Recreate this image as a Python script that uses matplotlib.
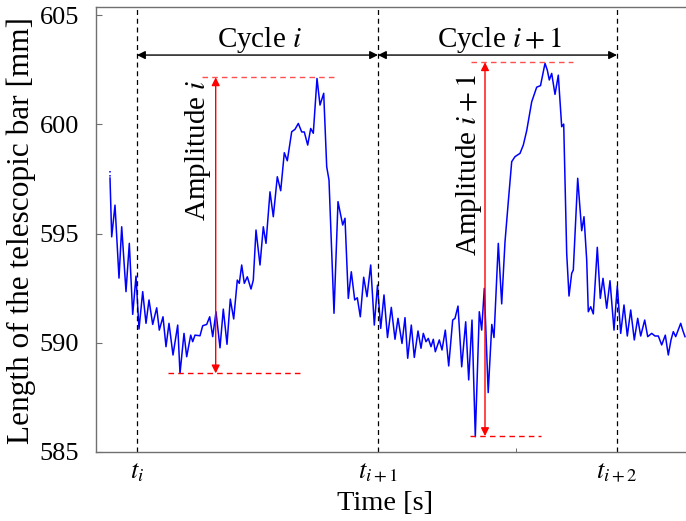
import matplotlib
matplotlib.use("Agg")
import matplotlib.pyplot as plt
import numpy as np

plt.rcParams['font.family'] = ['Liberation Serif', 'DejaVu Serif']
plt.rcParams['mathtext.fontset'] = 'stix'

# ---- data ----
time_s = [0.14, 0.157, 0.19, 0.23, 0.257, 0.30, 0.333, 0.367, 0.40, 0.43,
          0.467, 0.50, 0.53, 0.567, 0.607, 0.633, 0.67, 0.70, 0.73, 0.77,
          0.817, 0.84, 0.88, 0.907, 0.947, 0.967, 0.99, 1.04, 1.067, 1.107,
          1.137, 1.167, 1.20, 1.24, 1.273, 1.31, 1.343, 1.377, 1.413, 1.433,
          1.457, 1.483, 1.513, 1.55, 1.573, 1.60, 1.64, 1.673, 1.70, 1.74,
          1.773, 1.813, 1.847, 1.883, 1.913, 1.957, 1.99, 2.023, 2.057, 2.083,
          2.117, 2.147, 2.173, 2.21, 2.24, 2.277, 2.307, 2.33, 2.38, 2.42,
          2.45, 2.467, 2.49, 2.523, 2.553, 2.587, 2.613, 2.643, 2.677, 2.71,
          2.747, 2.783, 2.815, 2.847, 2.88, 2.915, 2.953, 2.99, 3.02, 3.06,
          3.09, 3.117, 3.153, 3.183, 3.22, 3.25, 3.273, 3.30, 3.323, 3.35,
          3.373, 3.393, 3.433, 3.46, 3.493, 3.527, 3.567, 3.59, 3.62, 3.657,
          3.697, 3.727, 3.76, 3.793, 3.833, 3.857, 3.883, 3.922, 3.958, 3.98,
          4.023, 4.057, 4.09, 4.123, 4.157, 4.19, 4.24, 4.273, 4.307, 4.357,
          4.407, 4.445, 4.49, 4.513, 4.533, 4.557, 4.59, 4.623, 4.657, 4.677,
          4.707, 4.73, 4.757, 4.773, 4.817, 4.857, 4.88, 4.907, 4.923, 4.947,
          4.973, 5.013, 5.043, 5.07, 5.107, 5.14, 5.18, 5.213, 5.247, 5.28,
          5.313, 5.347, 5.383, 5.417, 5.447, 5.487, 5.517, 5.557, 5.59, 5.623,
          5.657, 5.693, 5.723, 5.75, 5.773, 5.797, 5.847, 5.867, 5.89]
length_mm = [597.54, 594.85, 596.30, 592.96, 595.31, 592.34, 594.55, 591.30, 593.05, 590.63,
             592.34, 590.89, 591.96, 590.84, 591.60, 590.58, 591.19, 589.82, 590.89, 589.44,
             590.81, 588.60, 590.43, 589.36, 590.35, 590.05, 590.35, 590.32, 590.78, 590.84,
             591.19, 590.28, 591.42, 589.77, 591.54, 589.93, 592.00, 591.09, 592.87, 592.72,
             593.56, 592.72, 593.02, 592.46, 592.87, 595.16, 593.56, 595.31, 594.55, 596.91,
             595.77, 597.60, 596.96, 598.70, 598.33, 599.66, 599.77, 600.04, 599.65, 599.65,
             599.05, 599.81, 599.59, 602.10, 600.88, 601.42, 598.06, 597.45, 591.35, 596.46,
             595.77, 595.39, 595.70, 592.03, 593.25, 591.96, 592.06, 591.19, 593.00, 592.11,
             593.56, 590.81, 592.64, 590.66, 592.19, 590.24, 591.62, 590.16, 591.12, 589.97,
             591.15, 589.29, 590.81, 589.33, 590.54, 589.75, 590.43, 590.05, 590.20, 589.82,
             590.16, 589.59, 590.13, 589.67, 590.58, 588.94, 591.04, 591.12, 591.68, 588.90,
             590.96, 588.30, 591.04, 585.70, 591.42, 590.58, 592.49, 587.72, 590.84, 590.24,
             594.55, 591.78, 594.62, 596.46, 598.29, 598.52, 598.67, 599.05, 599.71, 601.03,
             601.70, 601.77, 602.79, 602.48, 602.03, 602.33, 601.37, 602.25, 599.89, 600.01,
             594.09, 592.14, 593.18, 593.33, 597.53, 595.13, 595.77, 593.79, 591.42, 591.65,
             591.32, 594.37, 592.03, 592.95, 591.58, 592.84, 590.58, 592.60, 590.43, 591.73,
             590.31, 591.50, 590.13, 591.12, 590.31, 591.04, 590.28, 590.43, 590.31, 590.31,
             589.90, 590.35, 589.44, 590.13, 590.51, 590.28, 590.89, 590.58, 590.28]
lead_t = [0.14, 0.14]
lead_v = [597.88, 597.54]

cycle_times = [0.41, 2.82, 5.21]
cycle_labels = [r'$t_i$', r'$t_{i+1}$', r'$t_{i+2}$']
extra_tick = [4.20]

amp1_x, amp1_top, amp1_bot = 1.197, 602.15, 588.60
amp2_x, amp2_top, amp2_bot = 3.89, 602.84, 585.73
amp1_top_span = [1.057, 2.407]
amp1_bot_span = [0.723, 2.073]
amp2_top_span = [3.75, 4.77]
amp2_bot_span = [3.74, 4.45]
cycle_arrow_y = 603.17

# ---- figure ----
W, H = 686, 521
fig = plt.figure(figsize=(W / 100, H / 100), dpi=100)
ax = fig.add_axes([96 / W, (H - 452) / H, (710 - 96) / W, (452 - 7) / H])
ax.set_xlim(0, 6.14)
ax.set_ylim(585, 605.37)

ax.plot(time_s, length_mm, color='#0000ff', lw=1.1)
ax.plot(lead_t, lead_v, color='#0000ff', lw=1.1, ls=':')

for t in cycle_times:
    ax.axvline(t, color='black', lw=0.9, ls=(0, (4, 3)))

# cycle arrows
for a, b in [(cycle_times[0], cycle_times[1]), (cycle_times[1], cycle_times[2])]:
    ax.annotate('', xy=(b, cycle_arrow_y), xytext=(a, cycle_arrow_y),
                arrowprops=dict(arrowstyle='<|-|>', color='black', lw=1.0,
                                mutation_scale=12, shrinkA=0, shrinkB=0))
ax.text(1.63, 603.86, r'Cycle $i$', ha='center', va='center', fontsize=21)
ax.text(4.04, 603.86, r'Cycle $i+1$', ha='center', va='center', fontsize=21)

# amplitude arrows
for x, top, bot, ts, bs in [(amp1_x, amp1_top, amp1_bot, amp1_top_span, amp1_bot_span),
                            (amp2_x, amp2_top, amp2_bot, amp2_top_span, amp2_bot_span)]:
    ax.annotate('', xy=(x, top), xytext=(x, bot),
                arrowprops=dict(arrowstyle='<|-|>', color='red', lw=1.0,
                                mutation_scale=12, shrinkA=0, shrinkB=0))
    ax.plot(ts, [top, top], color='#ff5050', lw=1.0, ls=(0, (4, 3)))
    ax.plot(bs, [bot, bot], color='red', lw=1.0, ls=(0, (4, 3)))

ax.text(1.02, 598.82, r'Amplitude $i$', rotation=90, ha='center', va='center', fontsize=21)
ax.text(3.73, 598.14, r'Amplitude $i+1$', rotation=90, ha='center', va='center', fontsize=21)

# axes styling
for s in ax.spines.values():
    s.set_color('#707070')
    s.set_linewidth(1.0)
ax.set_yticks([585, 590, 595, 600, 605])
ax.set_xticks(cycle_times)
ax.set_xticklabels(cycle_labels)
ax.set_xticks(extra_tick, minor=True)
ax.tick_params(axis='both', direction='in', colors='#707070', labelcolor='black',
               labelsize=19, length=4)
ax.tick_params(axis='x', which='major', length=0, pad=7)
ax.tick_params(axis='x', which='minor', direction='in', length=3, colors='#555555')
ax.tick_params(axis='y', pad=12)

fig.text(385 / W, 1 - 503 / H, 'Time [s]', ha='center', va='center', fontsize=20.5)
fig.text(21 / W, 1 - 231 / H, 'Length of the telescopic bar [mm]', rotation=90,
         ha='center', va='center', fontsize=22.5)

fig.savefig('out.png', dpi=100)
